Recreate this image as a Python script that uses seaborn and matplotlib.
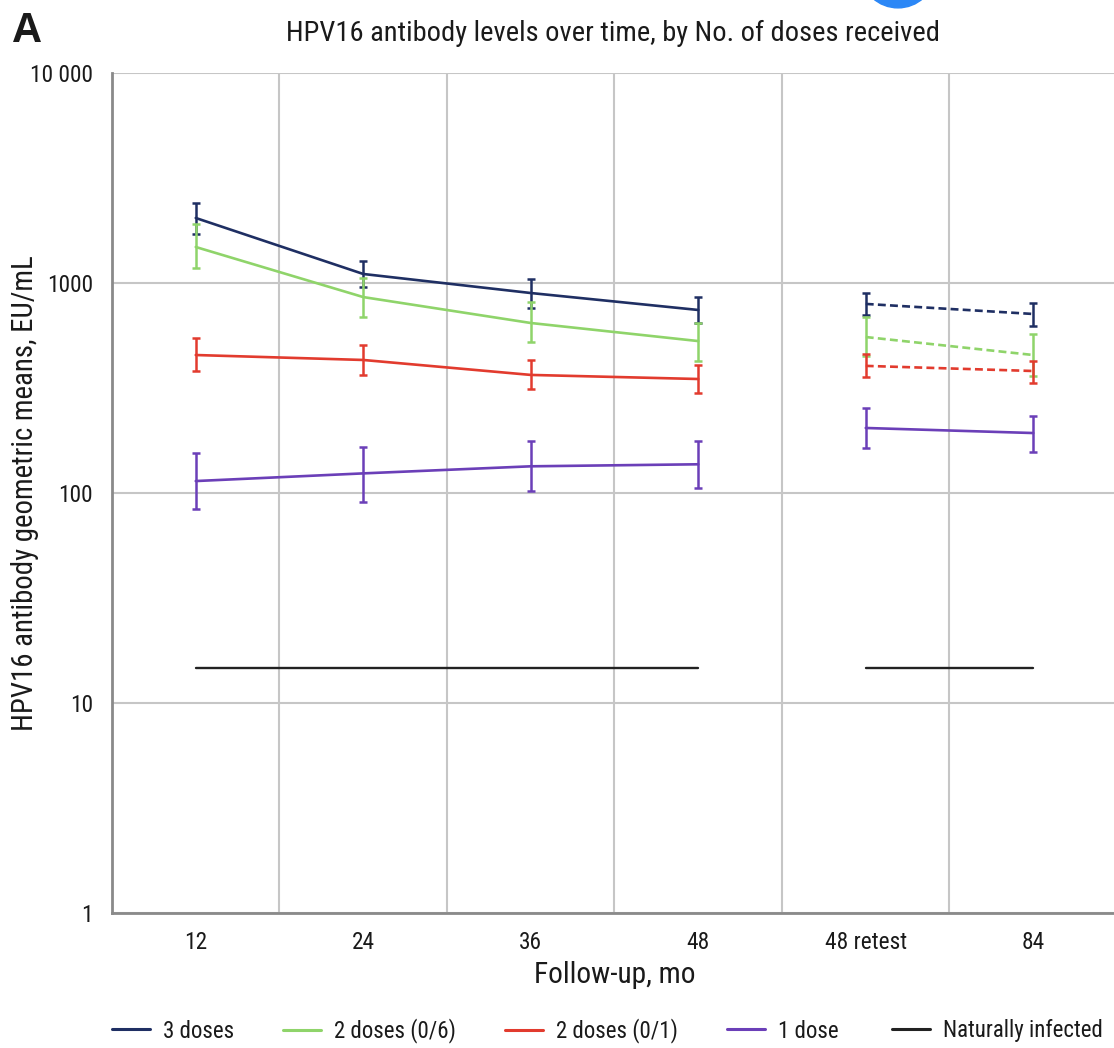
import numpy as np
import pandas as pd
import seaborn as sns
import matplotlib
matplotlib.use("Agg")
import matplotlib.pyplot as plt
import matplotlib.font_manager as fm
from matplotlib.lines import Line2D
from matplotlib.patches import Circle

# ---------------- data ----------------
timepoints = ["12", "24", "36", "48", "48 retest", "84"]
groups = ["3 doses", "2 doses (0/6)", "2 doses (0/1)", "1 dose"]

gmt_3 = [2040, 1104, 896, 744, 795, 712]
lo_3 = [1711, 957, 760, 645, 704, 624]
hi_3 = [2404, 1273, 1045, 857, 896, 803]

gmt_26 = [1484, 857, 645, 529, 553, 454]
lo_26 = [1178, 689, 524, 425, 449, 361]
hi_26 = [1910, 1056, 812, 645, 689, 571]

gmt_21 = [454, 430, 365, 349, 403, 381]
lo_21 = [381, 365, 313, 299, 357, 334]
hi_21 = [547, 507, 430, 407, 459, 425]

gmt_1 = [114, 124, 134, 137, 204, 193]
lo_1 = [84, 91, 102, 106, 164, 157]
hi_1 = [155, 166, 177, 177, 254, 233]

natural_level = [14.7, 14.7, 14.7, 14.7, 14.7, 14.7]

ytick_vals = [1, 10, 100, 1000, 10000]
ytick_labels = ["1", "10", "100", "1000", "10 000"]

legend_labels = groups + ["Naturally infected"]

colors = {"3 doses": "#1f2f63", "2 doses (0/6)": "#8fd46a",
          "2 doses (0/1)": "#e23b2e", "1 dose": "#6b3fb8",
          "Naturally infected": "#222222"}

# ---------------- build table ----------------
series = {"3 doses": (gmt_3, lo_3, hi_3),
          "2 doses (0/6)": (gmt_26, lo_26, hi_26),
          "2 doses (0/1)": (gmt_21, lo_21, hi_21),
          "1 dose": (gmt_1, lo_1, hi_1)}
rows = []
for g, (m, lo, hi) in series.items():
    for i, t in enumerate(timepoints):
        seg = "early" if i < 4 else "retest"
        rows.append(dict(group=g, pos=i, time=t, gmt=m[i], lo=lo[i], hi=hi[i], seg=seg))
df = pd.DataFrame(rows)
nat = pd.DataFrame(dict(pos=range(len(timepoints)), gmt=natural_level,
                        seg=["early"] * 4 + ["retest"] * 2))

# ---------------- font choice (prefer a narrow sans) ----------------
sns.set_style("white")
entries = fm.fontManager.ttflist
names = {f.name for f in entries}
family, stretch = None, "normal"
for nm in ["Liberation Sans Narrow", "Arial Narrow", "Roboto Condensed", "Open Sans Condensed",
           "Noto Sans Condensed", "DejaVu Sans Condensed", "Noto Sans Display Condensed"]:
    if nm in names:
        family = nm
        break
if family is None:
    for pref in ["Liberation Sans", "Roboto", "Noto Sans", "Open Sans", "DejaVu Sans"]:
        if any(f.name == pref and str(f.stretch) in ("condensed", "semi-condensed", "extra-condensed")
               for f in entries):
            family, stretch = pref, "condensed"
            break
if family is None:
    family = "Liberation Sans" if "Liberation Sans" in names else "DejaVu Sans"
plt.rcParams["font.family"] = [family, "DejaVu Sans"]
plt.rcParams["font.stretch"] = stretch

W, H = 1114, 1048
px = 100 / 72.0
fig = plt.figure(figsize=(W / 100, H / 100), dpi=100)
ax = fig.add_axes([112 / W, 135 / H, (1117 - 112) / W, (913 - 73) / H])

lw = 1.9
for g in groups:
    sub = df[df.group == g]
    for seg in ["early", "retest"]:
        s = sub[sub.seg == seg]
        dashed = (seg == "retest") and g != "1 dose"
        sns.lineplot(data=s, x="pos", y="gmt", ax=ax, color=colors[g], lw=lw,
                     linestyle=(0, (3.0, 1.6)) if dashed else "-", estimator=None,
                     legend=False, zorder=3)
    ax.errorbar(sub.pos, sub.gmt, yerr=[sub.gmt - sub.lo, sub.hi - sub.gmt], fmt="none",
                ecolor=colors[g], elinewidth=1.8, capsize=3, capthick=1.8, zorder=3)

for seg in ["early", "retest"]:
    s = nat[nat.seg == seg]
    sns.lineplot(data=s, x="pos", y="gmt", ax=ax, color=colors["Naturally infected"],
                 lw=1.7, estimator=None, legend=False, zorder=3)

ax.set_yscale("log")
ax.set_ylim(1, 10000)
ax.set_xlim(-0.5, len(timepoints) - 0.5)
ax.set_yticks(ytick_vals)
ax.set_yticklabels(ytick_labels)
ax.yaxis.set_minor_locator(matplotlib.ticker.NullLocator())
ax.set_xticks(range(len(timepoints)))
ax.set_xticklabels(timepoints)
ax.set_xticks(np.arange(0.5, len(timepoints) - 0.5, 1), minor=True)
ax.tick_params(axis="both", which="both", length=0, colors="#1a1a1a")
ax.grid(False)
ax.grid(True, axis="y", which="major", color="#c6c6c6", lw=1.5)
ax.grid(True, axis="x", which="minor", color="#c6c6c6", lw=1.5)
for sp in ["top", "right"]:
    ax.spines[sp].set_visible(False)
for sp in ["left", "bottom"]:
    ax.spines[sp].set_color("#8a8a8a")
    ax.spines[sp].set_linewidth(2)

xl = ax.set_xlabel("Follow-up, mo", color="#1a1a1a")
yl = ax.set_ylabel("HPV16 antibody geometric means, EU/mL", color="#1a1a1a")

title = fig.text(613 / W, 1 - 33 / H, "HPV16 antibody levels over time, by No. of doses received",
                 ha="center", va="center", color="#1a1a1a")
fig.text(12 / W, 1 - 31 / H, "A", ha="left", va="center", fontsize=30,
         fontweight="bold", color="#1a1a1a", family=["Liberation Sans", "DejaVu Sans"],
         stretch="normal")

# artifact circle seen at top of the reference
fig.patches.append(Circle((898 / W, 1 + 26 / H), 36 / W, transform=fig.transFigure,
                          color="#2b87f6", zorder=0))

# ---- fit text sizes to widths measured on the reference ----
fig.canvas.draw()
r = fig.canvas.get_renderer()


def fit(t, target, vertical=False, base=16):
    t.set_fontsize(base)
    bb = t.get_window_extent(r)
    cur = bb.height if vertical else bb.width
    return base * target / cur


title.set_fontsize(fit(title, 654))
xl.set_fontsize(fit(xl, 162))
yl.set_fontsize(fit(yl, 476, vertical=True))
lab_10k = [t for t in ax.get_yticklabels() if t.get_text() == "10 000"][0]
ax.tick_params(axis="both", which="both", labelsize=fit(lab_10k, 63))
tmp = fig.text(0, 0, "3 doses 1 dose 2 doses (0/6)", fontsize=16)
fs_leg = fit(tmp, 73 + 63 + 117 + 2 * 6)
tmp.remove()

ax.tick_params(axis="y", pad=19 / px)
ax.tick_params(axis="x", pad=18 / px)
ax.xaxis.labelpad = 10
ax.yaxis.labelpad = 10

# one legend entry per item, placed at the reference handle positions
em = fs_leg * px
handle_x = [112, 283, 505, 727, 892]
for lab, hx in zip(legend_labels, handle_x):
    h = Line2D([], [], color=colors[lab], lw=2.2)
    fig.legend([h], [lab], loc="center left", bbox_to_anchor=(hx / W, 17 / H),
               frameon=False, fontsize=fs_leg, borderpad=0, borderaxespad=0,
               handlelength=38 / em, handletextpad=13 / em, labelcolor="#1a1a1a")

# place axis labels by pixel position of their centres
for _ in range(2):
    fig.canvas.draw()
    bb = xl.get_window_extent(r)
    ax.xaxis.labelpad += ((bb.y0 + bb.height / 2) - (H - 975)) / px
    bb = yl.get_window_extent(r)
    ax.yaxis.labelpad += ((bb.x0 + bb.width / 2) - 25) / px

fig.savefig("out.png", dpi=100)
